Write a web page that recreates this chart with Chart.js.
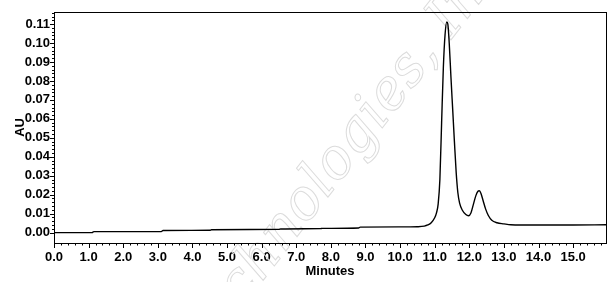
<!DOCTYPE html>
<html><head><meta charset="utf-8">
<script src="https://cdn.jsdelivr.net/npm/chart.js@4"></script>
<style>html,body{margin:0;padding:0;background:#fff}canvas{display:block}</style>
</head><body>
<canvas id="c" width="609" height="282"></canvas>
<script>
// ---- data ----
const timesMin = [0, 1.1, 1.15, 3.1, 3.15, 4.5, 4.55, 6.5, 6.55, 7.7, 7.75, 8.8, 8.85, 10.0, 10.5, 10.7, 10.8, 10.9, 11.0, 11.05, 11.1, 11.15, 11.2, 11.25, 11.3, 11.35, 11.38, 11.42, 11.47, 11.52, 11.57, 11.62, 11.67, 11.72, 11.8, 11.9, 11.98, 12.05, 12.12, 12.19, 12.25, 12.29, 12.34, 12.4, 12.47, 12.55, 12.65, 12.8, 13.0, 13.2, 13.5, 14.0, 15.0, 15.95];
const absorbanceAU = [0.0000, 0.0000, 0.0005, 0.0005, 0.0011, 0.0012, 0.0015, 0.0017, 0.0019, 0.0021, 0.0022, 0.0024, 0.0029, 0.0030, 0.0031, 0.0034, 0.0040, 0.0052, 0.0078, 0.0103, 0.0150, 0.0280, 0.0580, 0.0870, 0.1045, 0.1112, 0.1100, 0.1000, 0.0820, 0.0650, 0.0480, 0.0320, 0.0210, 0.0155, 0.0118, 0.0095, 0.0089, 0.0105, 0.0150, 0.0195, 0.0218, 0.0221, 0.0205, 0.0168, 0.0125, 0.0090, 0.0065, 0.0052, 0.0046, 0.0041, 0.0040, 0.0040, 0.0040, 0.0041];
const xTickValues = [0,1,2,3,4,5,6,7,8,9,10,11,12,13,14,15];
const yTickValues = [0.00,0.01,0.02,0.03,0.04,0.05,0.06,0.07,0.08,0.09,0.10,0.11];
const xAxisTitle = 'Minutes';
const yAxisTitle = 'AU';
const watermarkText = 'Technologies, Inc.';

const points = timesMin.map((t, i) => ({x: t, y: absorbanceAU[i]}));
const FONT = 'Arial, "Liberation Sans", sans-serif';

const framePlugin = {
  id: 'frame',
  beforeDatasetsDraw(chart) {
    const {ctx} = chart;
    ctx.save();
    ctx.beginPath();
    ctx.rect(0, 0, chart.width, chart.height);
    ctx.clip();
    ctx.translate(348, 148);
    ctx.rotate(-52 * Math.PI / 180);
    ctx.font = 'italic 56px "DejaVu Serif", "Liberation Serif", serif';
    ctx.textAlign = 'center';
    ctx.textBaseline = 'middle';
    ctx.strokeStyle = '#dcdcdc';
    ctx.lineWidth = 1;
    ctx.strokeText(watermarkText, 0, 0);
    ctx.restore();
  },
  afterDraw(chart) {
    const {ctx, chartArea: a, scales: {x, y}} = chart;
    ctx.save();
    ctx.strokeStyle = '#000';
    ctx.lineWidth = 1;
    ctx.strokeRect(Math.round(a.left) + 0.5, Math.round(a.top) + 0.5, Math.round(a.right - a.left), Math.round(a.bottom - a.top));
    ctx.beginPath();
    for (let v = 0; v <= x.max + 1e-9; v += 0.2) {
      const px = Math.round(x.getPixelForValue(v)) + 0.5;
      const major = Math.abs(v - Math.round(v)) < 1e-6;
      ctx.moveTo(px, a.bottom);
      ctx.lineTo(px, a.bottom + (major ? 5 : 2.5));
    }
    for (let v = 0; v <= y.max + 1e-9; v += 0.002) {
      const py = Math.round(y.getPixelForValue(v)) + 0.5;
      const major = Math.abs(v * 100 - Math.round(v * 100)) < 1e-6;
      ctx.moveTo(a.left, py);
      ctx.lineTo(a.left - (major ? 4 : 2), py);
    }
    ctx.stroke();
    ctx.restore();
  }
};

new Chart(document.getElementById('c'), {
  type: 'line',
  data: { datasets: [{ data: points, borderColor: '#000', borderWidth: 1.4, pointRadius: 0, fill: false, cubicInterpolationMode: 'monotone' }] },
  options: {
    responsive: false, animation: false, events: [],
    layout: { padding: { top: 8, right: 3, left: 0, bottom: 0 } },
    plugins: { legend: { display: false }, tooltip: { enabled: false } },
    scales: {
      x: {
        type: 'linear', min: 0, max: 15.95,
        afterBuildTicks: s => { s.ticks = xTickValues.map(v => ({value: v})); },
        afterFit: s => { s.height = 39; },
        grid: { display: false, drawTicks: false },
        border: { display: false },
        ticks: { color: '#000', padding: 7, maxRotation: 0, autoSkip: false, font: { family: FONT, size: 13, weight: 'bold' }, callback: v => Number(v).toFixed(1) },
        title: { display: true, text: xAxisTitle, color: '#000', font: { family: FONT, size: 13, weight: 'bold' }, padding: { top: 0, bottom: 3 } }
      },
      y: {
        type: 'linear', min: -0.0055, max: 0.1165,
        afterBuildTicks: s => { s.ticks = yTickValues.map(v => ({value: v})); },
        afterFit: s => { s.width = 54; },
        grid: { display: false, drawTicks: false },
        border: { display: false },
        ticks: { color: '#000', padding: 4, autoSkip: false, font: { family: FONT, size: 13, weight: 'bold' }, callback: v => Number(v).toFixed(2) },
        title: { display: true, text: yAxisTitle, color: '#000', font: { family: FONT, size: 13, weight: 'bold' }, padding: { top: 13, bottom: 0 } }
      }
    }
  },
  plugins: [framePlugin]
});
</script>
</body></html>
